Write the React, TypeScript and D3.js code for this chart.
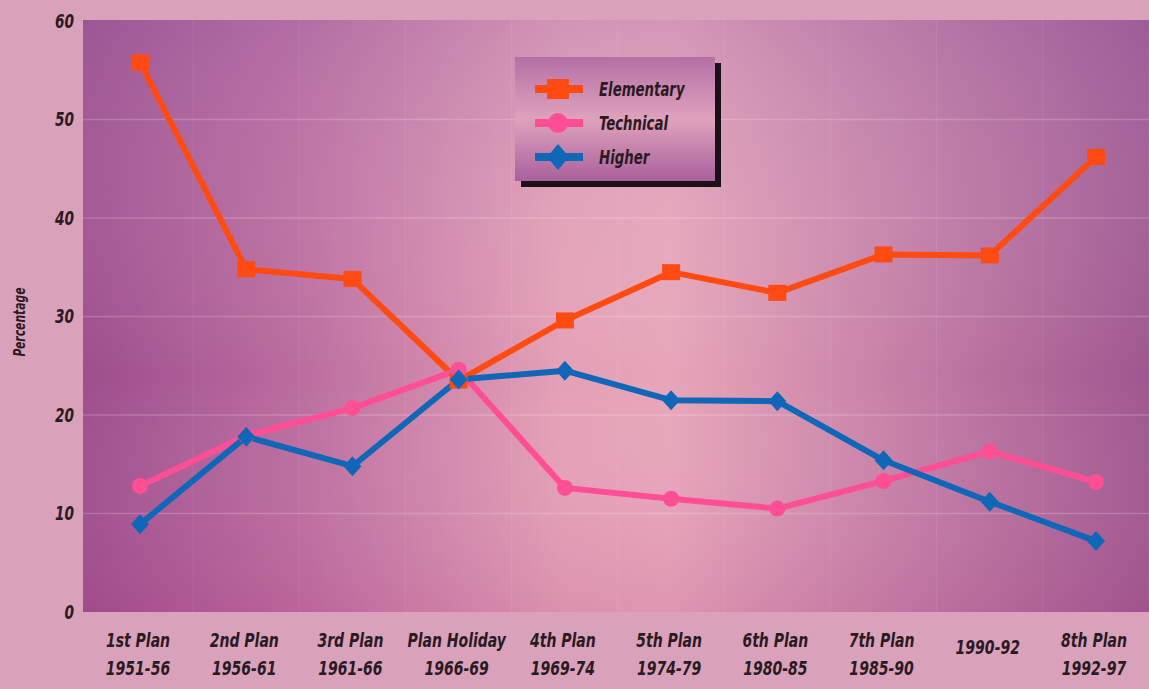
import React from 'react';
import * as d3 from 'd3';

const categories = [
  ['1st Plan', '1951-56'],
  ['2nd Plan', '1956-61'],
  ['3rd Plan', '1961-66'],
  ['Plan Holiday', '1966-69'],
  ['4th Plan', '1969-74'],
  ['5th Plan', '1974-79'],
  ['6th Plan', '1980-85'],
  ['7th Plan', '1985-90'],
  ['1990-92', ''],
  ['8th Plan', '1992-97'],
];

const elementary = [55.8, 34.8, 33.8, 23.5, 29.6, 34.5, 32.4, 36.3, 36.2, 46.2];
const technical = [12.8, 17.9, 20.7, 24.6, 12.6, 11.5, 10.5, 13.3, 16.3, 13.2];
const higher = [8.9, 17.8, 14.8, 23.6, 24.5, 21.5, 21.4, 15.4, 11.2, 7.2];

const yTicks = [0, 10, 20, 30, 40, 50, 60];

const series = [
  { name: 'Elementary', values: elementary, color: '#ff4a12', shape: 'square' },
  { name: 'Technical', values: technical, color: '#ff4f94', shape: 'circle' },
  { name: 'Higher', values: higher, color: '#1067b8', shape: 'diamond' },
];

const W = 1149;
const H = 689;
const plot = { left: 83, right: 1149, top: 20, bottom: 612 };
const font = '"DejaVu Sans Condensed", "DejaVu Sans", sans-serif';
const ink = '#2a1a22';

// squeezed italic text, to mimic the condensed face of the original
const Narrow: React.FC<{
  x: number;
  y: number;
  size: number;
  sx?: number;
  anchor?: 'start' | 'middle' | 'end';
  rotate?: number;
  children: React.ReactNode;
}> = ({ x, y, size, sx = 0.78, anchor = 'start', rotate = 0, children }) => (
  <g transform={`translate(${x},${y}) rotate(${rotate}) scale(${sx},1)`}>
    <text
      textAnchor={anchor}
      dy="0.35em"
      fontSize={size}
      fontWeight="bold"
      fontStyle="italic"
      fill={ink}
    >
      {children}
    </text>
  </g>
);

const App: React.FC = () => {
  const x = d3
    .scalePoint<number>()
    .domain(d3.range(categories.length))
    .range([140, 1096]);
  const y = d3.scaleLinear().domain([0, 60]).range([plot.bottom, plot.top + 1]);

  const line = d3
    .line<number>()
    .x((_, i) => x(i) as number)
    .y((d) => y(d));

  const marker = (shape: string, cx: number, cy: number, color: string, key: string) => {
    if (shape === 'square')
      return <rect key={key} x={cx - 9} y={cy - 8} width={18} height={16} fill={color} />;
    if (shape === 'circle') return <circle key={key} cx={cx} cy={cy} r={8} fill={color} />;
    return (
      <path
        key={key}
        d={`M${cx},${cy - 10}L${cx + 9},${cy}L${cx},${cy + 10}L${cx - 9},${cy}Z`}
        fill={color}
      />
    );
  };

  const lg = { x: 515, y: 57, w: 200, h: 124 };

  return (
    <svg
      width={W}
      height={H}
      style={{ position: 'absolute', left: 0, top: 0, display: 'block' }}
      fontFamily={font}
    >
      <defs>
        <linearGradient id="plotH" x1="0" x2="1" y1="0" y2="0">
          <stop offset="0" stopColor="#9e4d8c" />
          <stop offset="0.2" stopColor="#bb6b9f" />
          <stop offset="0.45" stopColor="#e4a0b6" />
          <stop offset="0.55" stopColor="#e7a5b9" />
          <stop offset="0.8" stopColor="#bf78a3" />
          <stop offset="1" stopColor="#9f568f" />
        </linearGradient>
        <linearGradient id="plotV" x1="0" x2="0" y1="0" y2="1">
          <stop offset="0" stopColor="#9a70b0" stopOpacity="0.25" />
          <stop offset="0.6" stopColor="#ffffff" stopOpacity="0" />
          <stop offset="1" stopColor="#b03a80" stopOpacity="0.15" />
        </linearGradient>
        <linearGradient id="legendBg" x1="0" x2="0" y1="0" y2="1">
          <stop offset="0" stopColor="#b56fa6" />
          <stop offset="0.5" stopColor="#dfa2bc" />
          <stop offset="1" stopColor="#a9609c" />
        </linearGradient>
      </defs>

      <rect width={W} height={H} fill="#d9a2ba" />
      <rect
        x={plot.left}
        y={plot.top}
        width={plot.right - plot.left}
        height={plot.bottom - plot.top}
        fill="url(#plotH)"
      />
      <rect
        x={plot.left}
        y={plot.top}
        width={plot.right - plot.left}
        height={plot.bottom - plot.top}
        fill="url(#plotV)"
      />

      {/* gridlines */}
      {yTicks.slice(1, -1).map((t) => (
        <line
          key={t}
          x1={plot.left}
          x2={plot.right}
          y1={y(t)}
          y2={y(t)}
          stroke="#ffffff"
          strokeOpacity={0.18}
          strokeWidth={1.5}
        />
      ))}
      {categories.map((_, i) => (
        <line
          key={i}
          x1={(x(i) as number) + 53}
          x2={(x(i) as number) + 53}
          y1={plot.top}
          y2={plot.bottom}
          stroke="#ffffff"
          strokeOpacity={0.08}
        />
      ))}

      {/* y axis */}
      {yTicks.map((t) => (
        <Narrow key={t} x={74} y={y(t)} size={19} sx={0.8} anchor="end">
          {t}
        </Narrow>
      ))}
      <Narrow x={20} y={322} size={15} sx={0.8} anchor="middle" rotate={-90}>
        Percentage
      </Narrow>

      {/* x axis labels */}
      {categories.map((c, i) => {
        const cx = (x(i) as number) - 2;
        return (
          <g key={i}>
            <Narrow x={cx} y={c[1] ? 640 : 647} size={20} anchor="middle">
              {c[0]}
            </Narrow>
            {c[1] && (
              <Narrow x={cx} y={668} size={20} anchor="middle">
                {c[1]}
              </Narrow>
            )}
          </g>
        );
      })}

      {/* series lines */}
      {series.map((s) => (
        <path
          key={s.name}
          d={line(s.values) || ''}
          fill="none"
          stroke={s.color}
          strokeWidth={6}
          strokeLinejoin="round"
        />
      ))}
      {series.map((s) =>
        s.values.map((v, i) => marker(s.shape, x(i) as number, y(v), s.color, `${s.name}-${i}`))
      )}

      {/* legend */}
      <rect x={lg.x + 6} y={lg.y + 6} width={lg.w} height={lg.h} fill="#1a1016" />
      <rect x={lg.x} y={lg.y} width={lg.w} height={lg.h} fill="url(#legendBg)" />
      {series.map((s, i) => {
        const cy = lg.y + 32 + i * 34;
        return (
          <g key={s.name}>
            <line
              x1={lg.x + 20}
              x2={lg.x + 68}
              y1={cy}
              y2={cy}
              stroke={s.color}
              strokeWidth={8}
            />
            {s.shape === 'square' && (
              <rect x={lg.x + 32} y={cy - 10} width={22} height={20} fill={s.color} />
            )}
            {s.shape === 'circle' && <circle cx={lg.x + 43} cy={cy} r={10} fill={s.color} />}
            {s.shape === 'diamond' && (
              <path
                d={`M${lg.x + 43},${cy - 13}L${lg.x + 54},${cy}L${lg.x + 43},${cy + 13}L${lg.x + 32},${cy}Z`}
                fill={s.color}
              />
            )}
            <Narrow x={lg.x + 84} y={cy} size={20} sx={0.74}>
              {s.name}
            </Narrow>
          </g>
        );
      })}
    </svg>
  );
};

export default App;
